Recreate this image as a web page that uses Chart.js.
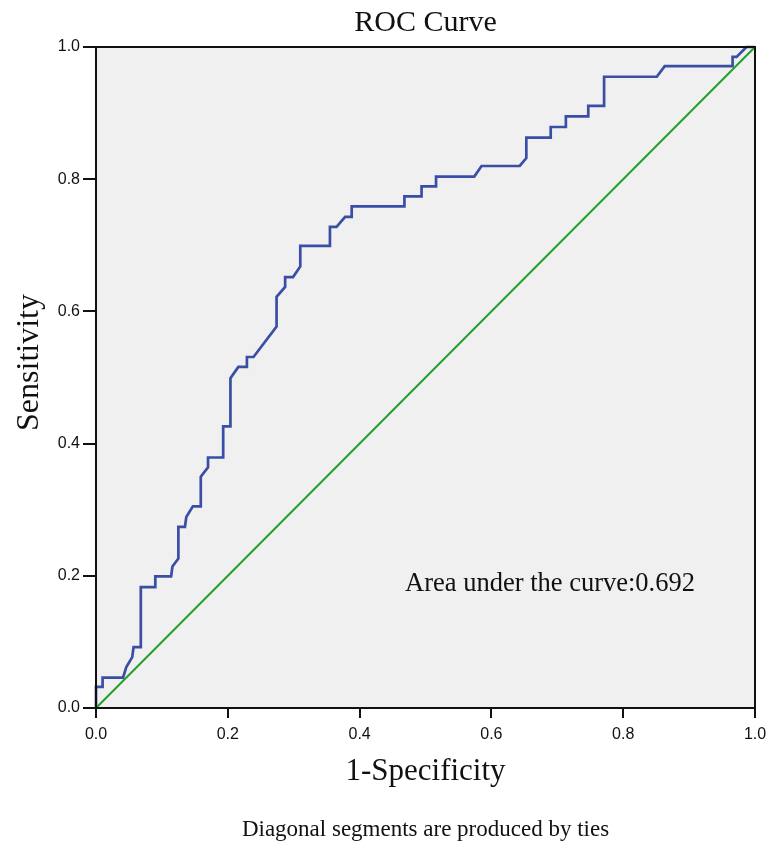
<!DOCTYPE html>
<html><head><meta charset="utf-8">
<script src="https://cdn.jsdelivr.net/npm/chart.js@4.4.1/dist/chart.umd.min.js"></script>
<style>html,body{margin:0;padding:0;background:#fff}#wrap{width:769px;height:844px;position:relative}</style>
</head><body><div id="wrap"><canvas id="c" width="769" height="844"></canvas></div>
<script>
// ROC curve points (1-Specificity, Sensitivity)
const rocFpr = [0,0,0.010,0.010,0.041,0.046,0.055,0.057,0.067,0.068,0.090,0.090,0.114,0.116,0.125,0.125,0.135,0.137,0.147,0.159,0.159,0.170,0.170,0.193,0.193,0.204,0.204,0.216,0.229,0.229,0.239,0.274,0.274,0.287,0.287,0.299,0.310,0.310,0.355,0.355,0.365,0.378,0.388,0.388,0.468,0.468,0.494,0.494,0.516,0.516,0.574,0.585,0.643,0.653,0.653,0.690,0.690,0.713,0.713,0.747,0.747,0.771,0.771,0.851,0.863,0.966,0.966,0.972,0.987,1.0];
const rocSens = [0,0.032,0.032,0.046,0.046,0.062,0.077,0.092,0.092,0.183,0.183,0.199,0.199,0.214,0.226,0.274,0.274,0.289,0.305,0.305,0.350,0.364,0.379,0.379,0.426,0.426,0.499,0.516,0.516,0.531,0.531,0.577,0.622,0.637,0.652,0.652,0.668,0.699,0.699,0.728,0.728,0.743,0.743,0.759,0.759,0.774,0.774,0.789,0.789,0.804,0.804,0.820,0.820,0.832,0.863,0.863,0.879,0.879,0.895,0.895,0.911,0.911,0.955,0.955,0.971,0.971,0.985,0.985,1.0,1.0];
const refFpr = [0, 1];
const refSens = [0, 1];
const tickValues = [0, 0.2, 0.4, 0.6, 0.8, 1.0];
const chartTitle = 'ROC Curve';
const xTitle = '1-Specificity';
const yTitle = 'Sensitivity';
const aucText = 'Area under the curve:0.692';
const footnote = 'Diagonal segments are produced by ties';

const toPts = (xs, ys) => xs.map((x, i) => ({x: x, y: ys[i]}));

const framePlugin = {
  id: 'frame',
  beforeDraw(chart) {
    const {ctx, chartArea: a} = chart;
    ctx.save();
    ctx.fillStyle = '#f0f0f0';
    ctx.fillRect(a.left, a.top, a.right - a.left, a.bottom - a.top);
    ctx.restore();
  },
  afterDraw(chart) {
    const {ctx, chartArea: a} = chart;
    ctx.save();
    ctx.strokeStyle = '#111';
    ctx.lineWidth = 2;
    ctx.strokeRect(a.left, a.top, a.right - a.left, a.bottom - a.top);
    const cx = (a.left + a.right) / 2;
    const serif = '"Liberation Serif","Times New Roman",serif';
    ctx.fillStyle = '#111';
    ctx.textAlign = 'center';
    ctx.textBaseline = 'middle';
    ctx.font = '30px ' + serif;
    ctx.fillText(chartTitle, cx, 23);
    ctx.font = '31px ' + serif;
    ctx.fillText(xTitle, cx, 772);
    ctx.font = '23px ' + serif;
    ctx.fillText(footnote, cx, 830);
    ctx.save();
    ctx.translate(30, (a.top + a.bottom) / 2 - 15);
    ctx.rotate(-Math.PI / 2);
    ctx.font = '32px ' + serif;
    ctx.fillText(yTitle, 0, 0);
    ctx.restore();
    const xs = chart.scales.x, ys = chart.scales.y;
    ctx.textAlign = 'left';
    ctx.font = '26.5px ' + serif;
    ctx.fillText(aucText, xs.getPixelForValue(0.469), ys.getPixelForValue(0.188));
    ctx.restore();
  }
};

new Chart(document.getElementById('c'), {
  type: 'scatter',
  data: {
    datasets: [
      {data: toPts(refFpr, refSens), showLine: true, borderColor: '#23a02c', borderWidth: 2, pointRadius: 0, tension: 0, clip: 3},
      {data: toPts(rocFpr, rocSens), showLine: true, borderColor: '#3a4ea6', borderWidth: 2.7, pointRadius: 0, tension: 0, clip: 3}
    ]
  },
  options: {
    responsive: false,
    devicePixelRatio: 1,
    animation: false,
    layout: {padding: {top: 47, right: 14, left: 0, bottom: 0}},
    plugins: {legend: {display: false}, tooltip: {enabled: false}, title: {display: false}},
    scales: {
      x: {
        type: 'linear', min: 0, max: 1,
        afterFit(s) { s.height = 136; s.paddingRight = 0; s.paddingLeft = 0; },
        afterBuildTicks(s) { s.ticks = tickValues.map(v => ({value: v})); },
        ticks: {callback: v => Number(v).toFixed(1), color: '#111', padding: 7, maxRotation: 0,
                font: {family: '"Liberation Sans",Arial,sans-serif', size: 16}},
        grid: {drawOnChartArea: false, drawTicks: true, tickLength: 10, color: '#111', lineWidth: 2},
        border: {display: true, color: '#111', width: 2}
      },
      y: {
        type: 'linear', min: 0, max: 1,
        afterFit(s) { s.width = 96; s.paddingTop = 0; s.paddingBottom = 0; },
        afterBuildTicks(s) { s.ticks = tickValues.map(v => ({value: v})); },
        ticks: {callback: v => Number(v).toFixed(1), color: '#111', padding: 3,
                font: {family: '"Liberation Sans",Arial,sans-serif', size: 16}},
        grid: {drawOnChartArea: false, drawTicks: true, tickLength: 13, color: '#111', lineWidth: 2},
        border: {display: true, color: '#111', width: 2}
      }
    }
  },
  plugins: [framePlugin]
});
</script></body></html>
